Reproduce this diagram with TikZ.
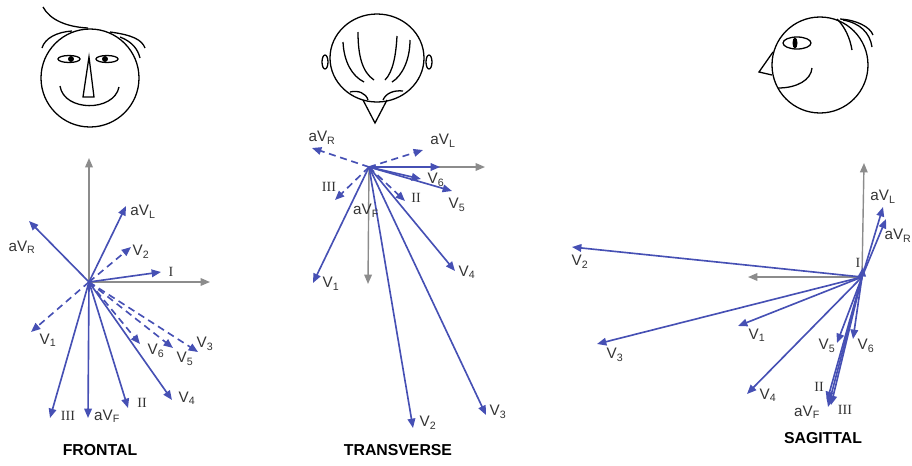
\documentclass[tikz,border=0pt]{standalone}
\usepackage{fontspec}
\setmainfont{Liberation Sans}
\newfontfamily\serifnum{Liberation Serif}
\usetikzlibrary{arrows.meta}

\definecolor{leadblue}{RGB}{70,80,180}
\definecolor{axisgray}{RGB}{140,140,140}

\newcommand{\lead}[2]{#1\textsubscript{#2}}
\newcommand{\rn}[1]{{\serifnum\fontsize{12}{12}\selectfont #1}}

\begin{document}
\begin{tikzpicture}[x=0.03cm, y=-0.03cm,
        vec/.style = {leadblue, line width=1.4pt, -{Triangle[length=8pt,width=6.5pt]}},
        dvec/.style = {vec, dash pattern=on 6pt off 4pt},
        axis/.style = {axisgray, line width=1.2pt, -{Triangle[length=8pt,width=6.5pt]}},
        lbl/.style = {inner sep=0pt, text=black!80, font=\fontsize{13}{13}\selectfont},
        title/.style = {inner sep=0pt, font=\bfseries\fontsize{13.5}{13.5}\selectfont},
        face/.style = {line width=1.1pt}]
    \useasboundingbox (0,0) rectangle (912,465);

    % front view
    \draw[face] (90,78) circle (49);
    \draw[face] (43,7) .. controls (50,20) and (67,27) .. (88,28);
    \draw[face] (42,48) .. controls (45,38) and (57,32) .. (72,31);
    \draw[face] (110,32) .. controls (133,35) and (142,40) .. (145,48);
    \draw[face] (120,37) .. controls (133,42) and (138,50) .. (140,58);
    \draw[face] (69,59) ellipse [x radius=11, y radius=3.5];
    \draw[face] (107,59) ellipse [x radius=11, y radius=3.5];
    \fill (71,59) circle (3);
    \fill (105,59) circle (3);
    \draw[face] (89,57) -- (83,97) -- (94,97) -- cycle;
    \draw[face] (60,86) .. controls (64,112) and (114,112) .. (119,87);

    \coordinate (f0) at (89,282);
    \coordinate (fup) at (89,158);
    \coordinate (fright) at (210,282);
    \draw[axis] (f0) -- (fup);
    \draw[axis] (f0) -- (fright);
    \foreach \s/\n/\x/\y/\lx/\ly/\t in {
        vec/fI/161/272/171/272/{\rn{I}},
        vec/faVL/126/206/143/212/{\lead{aV}{L}},
        vec/faVR/29/221/22/247/{\lead{aV}{R}},
        dvec/fV2/131/247/141/252/{\lead{V}{2}},
        dvec/fV1/31/332/48/340/{\lead{V}{1}},
        dvec/fV6/140/344/156/351/{\lead{V}{6}},
        dvec/fV5/173/348/185/359/{\lead{V}{5}},
        dvec/fV3/198/352/205/344/{\lead{V}{3}},
        vec/fV4/172/400/187/398/{\lead{V}{4}},
        vec/fII/128/408/142/403/{\rn{II}},
        vec/faVF/88/418/107/416/{\lead{aV}{F}},
        vec/fIII/50/418/68/416/{\rn{III}}}{
        \coordinate (\n) at (\x,\y);
        \draw[\s] (f0) -- (\n);
        \node[lbl] (\n-l) at (\lx,\ly) {\t};
    }
    \node[title] (ftitle) at (100,450) {FRONTAL};

    % top view
    \draw[face] (377,58) ellipse [x radius=47, y radius=44];
    \draw[face] (325,62) ellipse [x radius=3, y radius=7];
    \draw[face] (429,62) ellipse [x radius=3, y radius=7];
    \draw[face] (343,42) .. controls (344,62) and (352,76) .. (364,82);
    \draw[face] (358,32) .. controls (358,55) and (362,72) .. (374,80);
    \draw[face] (397,36) .. controls (396,55) and (393,72) .. (385,80);
    \draw[face] (410,40) .. controls (410,60) and (402,76) .. (392,82);
    \draw[face] (350,92) .. controls (358,90) and (366,93) .. (368,100);
    \draw[face] (403,91) .. controls (394,90) and (386,93) .. (383,100);
    \draw[face] (363,100) -- (375,123) -- (387,100);

    \coordinate (t0) at (369,167);
    \coordinate (tright) at (485,167);
    \coordinate (tdown) at (368,284);
    \coordinate (tI) at (440,167);
    \draw[axis] (t0) -- (tright);
    \draw[axis] (t0) -- (tdown);
    \draw[vec] (t0) -- (tI);
    \foreach \s/\n/\x/\y/\lx/\ly/\t in {
        dvec/taVR/312/148/322/138/{\lead{aV}{R}},
        dvec/taVL/423/150/443/141/{\lead{aV}{L}},
        vec/tV6/421/179/436/180/{\lead{V}{6}},
        vec/tV5/452/191/457/205/{\lead{V}{5}},
        dvec/tII/405/201/416/198/{\rn{II}},
        dvec/tIII/335/200/329/187/{\rn{III}},
        vec/tV1/313/283/331/284/{\lead{V}{1}},
        vec/tV4/455/271/467/272/{\lead{V}{4}},
        vec/tV2/413/428/428/423/{\lead{V}{2}},
        vec/tV3/486/415/498/412/{\lead{V}{3}}}{
        \coordinate (\n) at (\x,\y);
        \draw[\s] (t0) -- (\n);
        \node[lbl] (\n-l) at (\lx,\ly) {\t};
    }
    \node[lbl] (taVF-l) at (366,211) {\lead{aV}{F}};
    \node[title] (ttitle) at (398,450) {TRANSVERSE};

    % side view
    \draw[face] (820,65) circle (48);
    \draw[face] (797,43) ellipse [x radius=14, y radius=6];
    \fill (795,43) ellipse [x radius=2.5, y radius=5.5];
    \draw[face] (773,52) -- (759,72) -- (772,75);
    \draw[face] (812,68) .. controls (811,80) and (797,88) .. (778,88);
    \draw[face] (837,19) .. controls (845,27) and (850,38) .. (852,50);
    \draw[face] (840,19) .. controls (857,20) and (870,27) .. (873,35);
    \draw[face] (843,20) .. controls (860,23) and (870,33) .. (872,47);

    \coordinate (s0) at (862,277);
    \coordinate (sup) at (864,163);
    \coordinate (sleft) at (748,277);
    \draw[axis] (s0) -- (sup);
    \draw[axis] (s0) -- (sleft);
    \foreach \s/\n/\x/\y/\lx/\ly/\t in {
        vec/sI/863/267/858/263/{\rn{I}},
        vec/saVL/883/207/883/197/{\lead{aV}{L}},
        vec/saVR/886/219/898/236/{\lead{aV}{R}},
        vec/sV2/572/247/580/262/{\lead{V}{2}},
        vec/sV3/597/344/615/355/{\lead{V}{3}},
        vec/sV1/738/326/757/335/{\lead{V}{1}},
        vec/sV4/747/394/768/395/{\lead{V}{4}},
        vec/sV5/837/343/827/346/{\lead{V}{5}},
        vec/sV6/853/339/866/346/{\lead{V}{6}},
        vec/sII/827/401/819/387/{\rn{II}},
        vec/saVF/828/407/807/412/{\lead{aV}{F}},
        vec/sIII/831/405/845/410/{\rn{III}}}{
        \coordinate (\n) at (\x,\y);
        \draw[\s] (s0) -- (\n);
        \node[lbl] (\n-l) at (\lx,\ly) {\t};
    }
    \node[title] (stitle) at (823,438) {SAGITTAL};
\end{tikzpicture}
\end{document}
